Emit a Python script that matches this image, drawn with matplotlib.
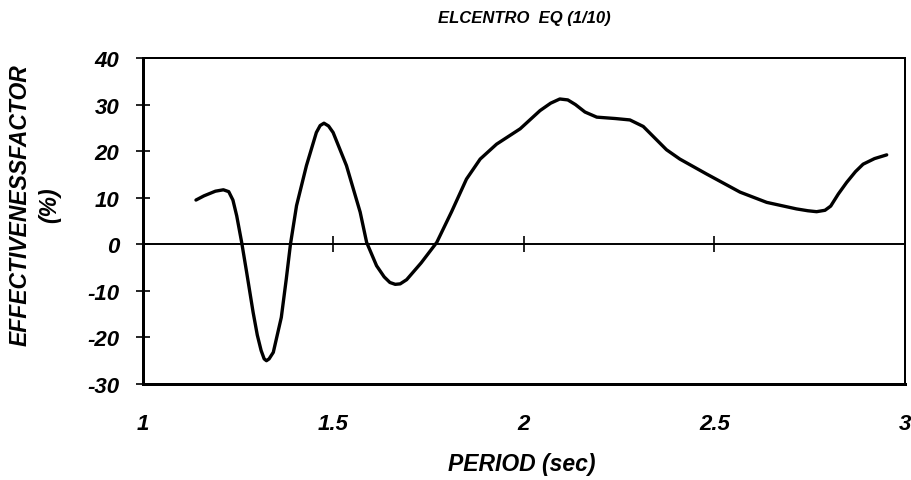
import matplotlib
matplotlib.use('Agg')
import matplotlib.pyplot as plt

period = [1.139, 1.160, 1.190, 1.211, 1.225, 1.236, 1.246, 1.259, 1.272, 1.289,
          1.300, 1.310, 1.318, 1.324, 1.331, 1.342, 1.363, 1.376, 1.387, 1.403,
          1.429, 1.455, 1.465, 1.475, 1.487, 1.499, 1.534, 1.570, 1.587, 1.613,
          1.633, 1.648, 1.662, 1.675, 1.692, 1.730, 1.771, 1.810, 1.849, 1.885,
          1.928, 1.990, 2.042, 2.070, 2.094, 2.115, 2.135, 2.160, 2.191, 2.240,
          2.278, 2.313, 2.374, 2.409, 2.479, 2.567, 2.637, 2.715, 2.745, 2.768,
          2.790, 2.805, 2.825, 2.847, 2.870, 2.890, 2.920, 2.952]
factor = [9.5, 10.4, 11.4, 11.7, 11.3, 9.5, 6.1, 0.4, -6.0, -14.6,
          -19.5, -22.8, -24.6, -25.0, -24.6, -23.2, -15.7, -7.5, 0.0, 8.3,
          16.9, 24.0, 25.5, 26.0, 25.4, 24.0, 16.9, 6.9, 0.4, -4.6,
          -7.0, -8.2, -8.6, -8.5, -7.6, -4.0, 0.4, 7.0, 14.0, 18.3,
          21.5, 24.8, 28.7, 30.3, 31.2, 31.0, 30.0, 28.4, 27.3, 27.0,
          26.7, 25.3, 20.3, 18.3, 15.1, 11.2, 9.0, 7.6, 7.2, 7.0,
          7.3, 8.2, 10.8, 13.3, 15.6, 17.2, 18.4, 19.2]

xticks = [1, 1.5, 2, 2.5, 3]
xtick_labels = ['1', '1.5', '2', '2.5', '3']
yticks = [-30, -20, -10, 0, 10, 20, 30, 40]

font = ['Liberation Sans', 'DejaVu Sans']

fig = plt.figure(figsize=(9.12, 4.81), dpi=100)
ax = fig.add_axes([143 / 912, 1 - 385 / 481, 762 / 912, 326 / 481])

ax.plot(period, factor, color='black', lw=2.4, solid_joinstyle='round',
        solid_capstyle='round')
ax.set_xlim(1, 3)
ax.set_ylim(-30, 40)

for side, w in [('left', 3.0), ('bottom', 3.0), ('top', 2.0), ('right', 2.0)]:
    ax.spines[side].set_linewidth(w * 0.72)

ax.set_yticks(yticks)
ax.set_yticklabels([str(v) for v in yticks], family=font, weight='bold',
                   style='italic', fontsize=16)
ax.tick_params(axis='y', direction='inout', length=10, width=1.2, pad=12)

ax.set_xticks(xticks)
ax.set_xticklabels(xtick_labels, family=font, weight='bold',
                   style='italic', fontsize=16)
ax.tick_params(axis='x', length=0, pad=21)

# zero line carrying the x tick marks
zero_axis = ax.secondary_xaxis(30 / 70)
zero_axis.spines['bottom'].set_linewidth(1.4)
zero_axis.set_xticks(xticks[1:-1])
zero_axis.set_xticklabels([])
zero_axis.tick_params(direction='inout', length=12, width=1.2,
                      labelbottom=False, labeltop=False)

fig.text(524 / 912, 1 - 19 / 481, 'ELCENTRO  EQ (1/10)', ha='center', va='center',
         family=font, weight='bold', style='italic', fontsize=12)
fig.text(522 / 912, 1 - 465 / 481, 'PERIOD (sec)', ha='center', va='center',
         family=font, weight='bold', style='italic', fontsize=16.5)
fig.text(35 / 912, 1 - 205 / 481, 'EFFECTIVENESSFACTOR\n(%)', ha='center', va='center',
         rotation=90, multialignment='center', linespacing=1.35,
         family=font, weight='bold', style='italic', fontsize=16.5)

fig.savefig('out.png', dpi=100)
